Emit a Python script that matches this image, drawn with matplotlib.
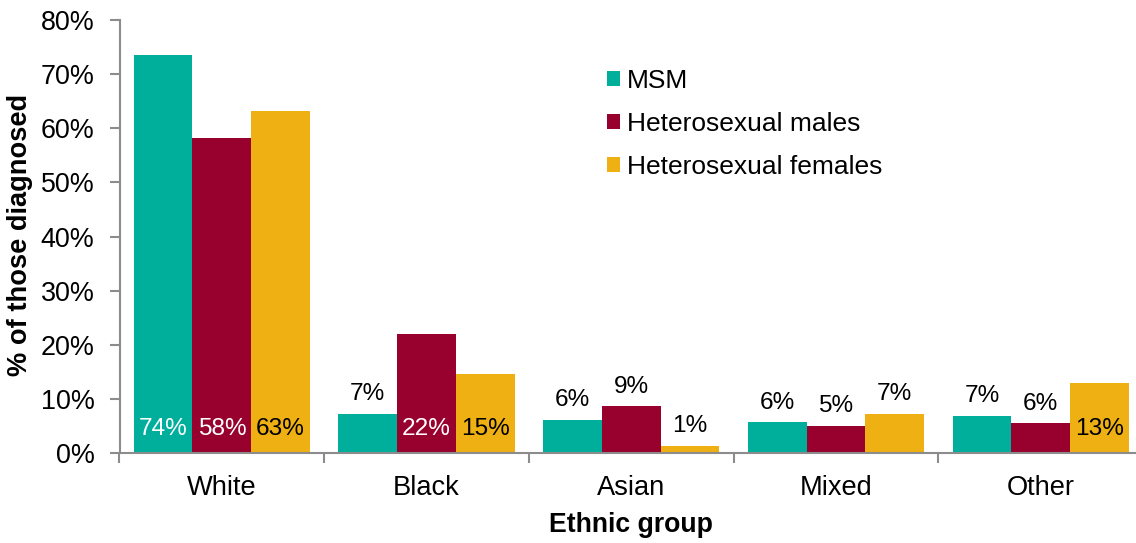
import matplotlib
matplotlib.use("Agg")
import matplotlib.pyplot as plt
import numpy as np
from matplotlib.ticker import FuncFormatter, FixedLocator

plt.rcParams['font.family'] = ['Liberation Sans', 'DejaVu Sans']

categories = ["White", "Black", "Asian", "Mixed", "Other"]
series_names = ["MSM", "Heterosexual males", "Heterosexual females"]
msm = [73.6, 7.3, 6.2, 5.7, 6.9]
het_males = [58.3, 22.1, 8.7, 5.1, 5.6]
het_females = [63.2, 14.7, 1.4, 7.3, 13.0]
y_ticks = [0, 10, 20, 30, 40, 50, 60, 70, 80]

colors = ["#00AE9C", "#98002E", "#EEB012"]
inside_text_colors = ["white", "white", "black"]

fig = plt.figure(figsize=(11.36, 5.43), dpi=100)
ax = fig.add_axes([119.5/1136, 1-453.3/543, (1143-119.5)/1136, (453.3-20)/543])

x = np.arange(len(categories))
width = 0.287
all_series = [msm, het_males, het_females]
for i, (vals, name) in enumerate(zip(all_series, series_names)):
    pos = x + (i - 1) * width
    ax.bar(pos, vals, width, color=colors[i], label=name, linewidth=0)
    for p, v in zip(pos, vals):
        lbl = f"{v:.0f}%"
        if v > 10:
            ax.annotate(lbl, (p, 0), xytext=(0, 17.5), textcoords="offset points",
                        ha="center", va="center", fontsize=17.6, color=inside_text_colors[i])
        else:
            ax.annotate(lbl, (p, v), xytext=(0, 14), textcoords="offset points",
                        ha="center", va="center", fontsize=17.6, color="black")

ax.set_xlim(-0.5, len(categories) - 0.5)
ax.set_ylim(0, 80)
ax.yaxis.set_major_locator(FixedLocator(y_ticks))
ax.yaxis.set_major_formatter(FuncFormatter(lambda v, p: f"{v:.0f}%"))

ax.set_xticks(np.arange(len(categories) + 1) - 0.5)
ax.set_xticklabels([])
ax.set_xticks(x, minor=True)
ax.set_xticklabels(categories, minor=True)
ax.tick_params(axis="x", which="minor", length=0, pad=15.5, labelsize=19.6)
ax.tick_params(axis="x", which="major", length=7, width=1.5, color="#8C8C8C", direction="out")
ax.tick_params(axis="y", length=7, width=1.5, color="#8C8C8C", direction="out", pad=11, labelsize=19.4)

for s in ["top", "right"]:
    ax.spines[s].set_visible(False)
for s in ["left", "bottom"]:
    ax.spines[s].set_color("#8C8C8C")
    ax.spines[s].set_linewidth(1.5)

ax.set_xlabel("Ethnic group", fontsize=19.2, fontweight="bold", va="center", ha="center")
ax.xaxis.set_label_coords(0.5, (453.3-525)/433.3)
ax.set_ylabel("% of those diagnosed", fontsize=19.6, fontweight="bold", va="center", ha="center")
ax.yaxis.set_label_coords((20-119.5)/1023.5, 0.504)

leg = ax.legend(loc="upper left", bbox_to_anchor=(607/1136, 1-69/543),
                bbox_transform=fig.transFigure, frameon=False, fontsize=19.0,
                handlelength=0.5, handleheight=0.5, handletextpad=0.25,
                labelspacing=0.72, borderpad=0, borderaxespad=0)

fig.savefig("out.png", dpi=100)
